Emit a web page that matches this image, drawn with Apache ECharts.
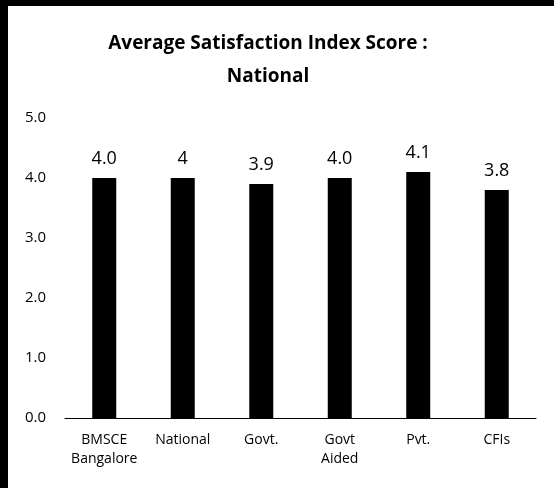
<!DOCTYPE html>
<html>
<head>
<meta charset="utf-8">
<script src="https://cdn.jsdelivr.net/npm/echarts@6/dist/echarts.min.js"></script>
<style>
html, body { margin: 0; padding: 0; background: #fff; }
#chart { width: 546px; height: 482px; border-left: 8px solid #000; border-top: 6px solid #000; }
</style>
</head>
<body>
<div id="chart"></div>
<script>
var categories = ['BMSCE\nBangalore', 'National', 'Govt.', 'Govt\nAided', 'Pvt.', 'CFIs'];
var scores = [4.0, 4.0, 3.9, 4.0, 4.1, 3.8];
var scoreLabels = ['4.0', '4', '3.9', '4.0', '4.1', '3.8'];

var myChart = echarts.init(document.getElementById('chart'));
var font = 'Open Sans, Liberation Sans, sans-serif';
var option = {
	title: {
		text: 'Average Satisfaction Index Score :\nNational',
		left: 255, top: 16, textAlign: 'center',
		textStyle: {fontFamily: font, fontSize: 19, fontWeight: 'bold', color: '#000', lineHeight: 33}
	},
	grid: {left: 57, right: 18, top: 112, bottom: 70},
	xAxis: {
		type: 'category', data: categories,
		axisLine: {lineStyle: {color: '#000', width: 1}},
		axisTick: {show: false},
		axisLabel: {color: '#000', fontFamily: font, fontSize: 14, margin: 13, lineHeight: 19, interval: 0}
	},
	yAxis: {
		type: 'value', min: 0, max: 5, interval: 1,
		splitLine: {show: false},
		axisLine: {show: false},
		axisLabel: {color: '#000', fontFamily: font, fontSize: 15, margin: 19,
			formatter: function (v) { return v.toFixed(1); }}
	},
	series: [{
		type: 'bar', data: scores, barWidth: 24,
		itemStyle: {color: '#000'},
		label: {show: true, position: 'top', distance: 10, color: '#000', fontFamily: font, fontSize: 18,
			formatter: function (p) { return scoreLabels[p.dataIndex]; }}
	}]
};
myChart.setOption(option, true);
</script>
</body>
</html>
